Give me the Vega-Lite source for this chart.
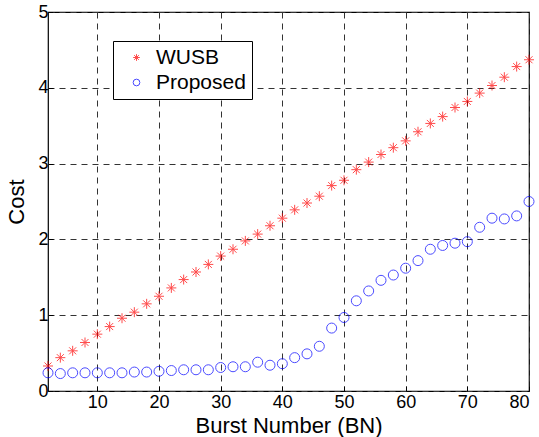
{
  "$schema": "https://vega.github.io/schema/vega-lite/v6.json",
  "width": 481,
  "height": 379,
  "autosize": "none",
  "padding": {"left": 48, "top": 12, "right": 10, "bottom": 46},
  "background": "white",
  "config": {
    "font": "Liberation Sans",
    "view": {"stroke": "black", "strokeWidth": 1.2},
    "axis": {
      "gridColor": "#333333",
      "gridDash": [6, 5],
      "gridOpacity": 1,
      "gridWidth": 1,
      "domain": false,
      "tickColor": "black",
      "tickSize": -5,
      "labelFont": "Liberation Sans",
      "labelFontSize": 18,
      "labelColor": "black",
      "titleFont": "Liberation Sans",
      "titleFontSize": 22,
      "titleFontWeight": "normal",
      "titleColor": "black"
    }
  },
  "data": {
    "values": [
      {"bn": 2, "series": "WUSB", "cost": 0.33},
      {"bn": 4, "series": "WUSB", "cost": 0.44},
      {"bn": 6, "series": "WUSB", "cost": 0.53},
      {"bn": 8, "series": "WUSB", "cost": 0.64},
      {"bn": 10, "series": "WUSB", "cost": 0.75},
      {"bn": 12, "series": "WUSB", "cost": 0.85},
      {"bn": 14, "series": "WUSB", "cost": 0.96},
      {"bn": 16, "series": "WUSB", "cost": 1.04},
      {"bn": 18, "series": "WUSB", "cost": 1.15},
      {"bn": 20, "series": "WUSB", "cost": 1.25},
      {"bn": 22, "series": "WUSB", "cost": 1.36},
      {"bn": 24, "series": "WUSB", "cost": 1.47},
      {"bn": 26, "series": "WUSB", "cost": 1.57},
      {"bn": 28, "series": "WUSB", "cost": 1.67},
      {"bn": 30, "series": "WUSB", "cost": 1.78},
      {"bn": 32, "series": "WUSB", "cost": 1.87},
      {"bn": 34, "series": "WUSB", "cost": 1.98},
      {"bn": 36, "series": "WUSB", "cost": 2.07},
      {"bn": 38, "series": "WUSB", "cost": 2.18},
      {"bn": 40, "series": "WUSB", "cost": 2.28},
      {"bn": 42, "series": "WUSB", "cost": 2.39},
      {"bn": 44, "series": "WUSB", "cost": 2.48},
      {"bn": 46, "series": "WUSB", "cost": 2.57},
      {"bn": 48, "series": "WUSB", "cost": 2.71},
      {"bn": 50, "series": "WUSB", "cost": 2.78},
      {"bn": 52, "series": "WUSB", "cost": 2.92},
      {"bn": 54, "series": "WUSB", "cost": 3.02},
      {"bn": 56, "series": "WUSB", "cost": 3.12},
      {"bn": 58, "series": "WUSB", "cost": 3.21},
      {"bn": 60, "series": "WUSB", "cost": 3.3},
      {"bn": 62, "series": "WUSB", "cost": 3.42},
      {"bn": 64, "series": "WUSB", "cost": 3.53},
      {"bn": 66, "series": "WUSB", "cost": 3.62},
      {"bn": 68, "series": "WUSB", "cost": 3.74},
      {"bn": 70, "series": "WUSB", "cost": 3.82},
      {"bn": 72, "series": "WUSB", "cost": 3.93},
      {"bn": 74, "series": "WUSB", "cost": 4.03},
      {"bn": 76, "series": "WUSB", "cost": 4.14},
      {"bn": 78, "series": "WUSB", "cost": 4.28},
      {"bn": 80, "series": "WUSB", "cost": 4.37},
      {"bn": 2, "series": "Proposed", "cost": 0.24},
      {"bn": 4, "series": "Proposed", "cost": 0.23},
      {"bn": 6, "series": "Proposed", "cost": 0.24},
      {"bn": 8, "series": "Proposed", "cost": 0.24},
      {"bn": 10, "series": "Proposed", "cost": 0.24},
      {"bn": 12, "series": "Proposed", "cost": 0.24},
      {"bn": 14, "series": "Proposed", "cost": 0.24},
      {"bn": 16, "series": "Proposed", "cost": 0.25},
      {"bn": 18, "series": "Proposed", "cost": 0.25},
      {"bn": 20, "series": "Proposed", "cost": 0.26},
      {"bn": 22, "series": "Proposed", "cost": 0.27},
      {"bn": 24, "series": "Proposed", "cost": 0.28},
      {"bn": 26, "series": "Proposed", "cost": 0.28},
      {"bn": 28, "series": "Proposed", "cost": 0.28},
      {"bn": 30, "series": "Proposed", "cost": 0.31},
      {"bn": 32, "series": "Proposed", "cost": 0.32},
      {"bn": 34, "series": "Proposed", "cost": 0.32},
      {"bn": 36, "series": "Proposed", "cost": 0.38},
      {"bn": 38, "series": "Proposed", "cost": 0.34},
      {"bn": 40, "series": "Proposed", "cost": 0.36},
      {"bn": 42, "series": "Proposed", "cost": 0.44},
      {"bn": 44, "series": "Proposed", "cost": 0.49},
      {"bn": 46, "series": "Proposed", "cost": 0.59},
      {"bn": 48, "series": "Proposed", "cost": 0.83},
      {"bn": 50, "series": "Proposed", "cost": 0.97},
      {"bn": 52, "series": "Proposed", "cost": 1.19},
      {"bn": 54, "series": "Proposed", "cost": 1.32},
      {"bn": 56, "series": "Proposed", "cost": 1.46},
      {"bn": 58, "series": "Proposed", "cost": 1.53},
      {"bn": 60, "series": "Proposed", "cost": 1.62},
      {"bn": 62, "series": "Proposed", "cost": 1.72},
      {"bn": 64, "series": "Proposed", "cost": 1.87},
      {"bn": 66, "series": "Proposed", "cost": 1.92},
      {"bn": 68, "series": "Proposed", "cost": 1.95},
      {"bn": 70, "series": "Proposed", "cost": 1.97},
      {"bn": 72, "series": "Proposed", "cost": 2.16},
      {"bn": 74, "series": "Proposed", "cost": 2.28},
      {"bn": 76, "series": "Proposed", "cost": 2.27},
      {"bn": 78, "series": "Proposed", "cost": 2.31},
      {"bn": 80, "series": "Proposed", "cost": 2.5}
    ]
  },
  "mark": {"type": "point", "filled": false, "strokeWidth": 1, "size": 100, "clip": false},
  "encoding": {
    "x": {
      "field": "bn",
      "type": "quantitative",
      "title": "Burst Number (BN)",
      "scale": {"domain": [2, 80], "nice": false, "zero": false},
      "axis": {
        "values": [10, 20, 30, 40, 50, 60, 70, 80],
        "labelPadding": 7,
        "titleY": 41,
        "titleBaseline": "alphabetic"
      }
    },
    "y": {
      "field": "cost",
      "type": "quantitative",
      "title": "Cost",
      "scale": {"domain": [0, 5], "nice": false},
      "axis": {
        "values": [0, 1, 2, 3, 4, 5],
        "labelPadding": 5,
        "titleX": -25,
        "titleBaseline": "alphabetic"
      }
    },
    "color": {
      "field": "series",
      "type": "nominal",
      "scale": {"domain": ["WUSB", "Proposed"], "range": ["#ff0000", "#0000ff"]},
      "legend": {
        "title": null,
        "orient": "none",
        "legendX": 65,
        "legendY": 29,
        "fillColor": "white",
        "strokeColor": "black",
        "padding": 6,
        "symbolOffset": 7,
        "labelOffset": 9,
        "labelFontSize": 21,
        "labelColor": "black",
        "labelFont": "Liberation Sans",
        "rowPadding": 3,
        "symbolSize": 45,
        "symbolStrokeWidth": 1,
        "symbolFillColor": "transparent"
      }
    },
    "shape": {
      "field": "series",
      "type": "nominal",
      "scale": {
        "domain": ["WUSB", "Proposed"],
        "range": ["M-1,0L1,0M0,-1L0,1M-0.7,-0.7L0.7,0.7M-0.7,0.7L0.7,-0.7", "circle"]
      }
    }
  }
}
